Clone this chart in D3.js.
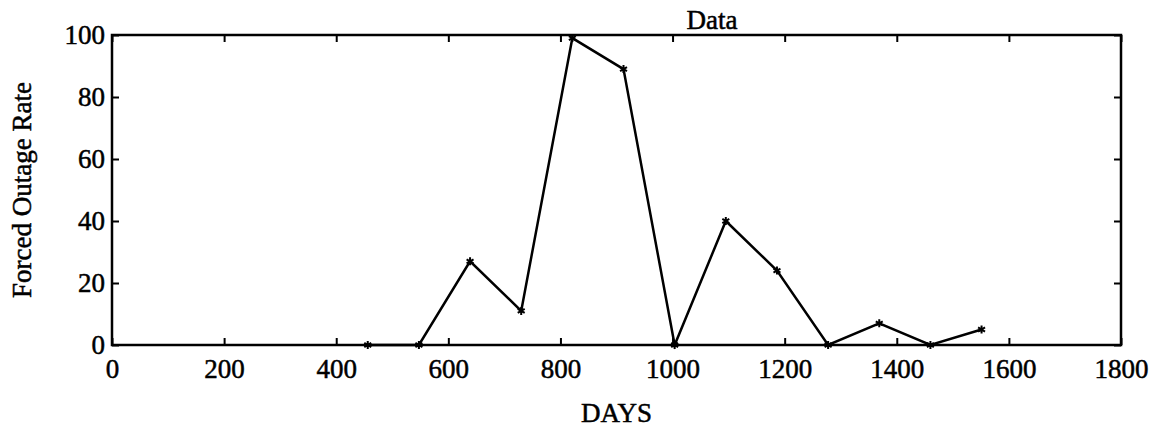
<!DOCTYPE html>
<html>
<head>
<meta charset="utf-8">
<script src="https://cdn.jsdelivr.net/npm/d3@7"></script>
<style>
  html, body { margin: 0; padding: 0; background: #fff; }
  svg { display: block; }
  text { font-family: "Liberation Serif", "Times New Roman", serif; fill: #000; }
</style>
</head>
<body>
<svg id="chart" width="1159" height="431"></svg>
<script>
// Forced outage rate observed each quarter (days since start)
const days = [456.25, 547.5, 638.75, 730, 821.25, 912.5, 1003.75, 1095, 1186.25, 1277.5, 1368.75, 1460, 1551.25];
const rate = [0, 0, 27, 11, 99, 89, 0, 40, 24, 0, 7, 0, 5];
const xTicks = [0, 200, 400, 600, 800, 1000, 1200, 1400, 1600, 1800];
const yTicks = [0, 20, 40, 60, 80, 100];

const svg = d3.select("#chart");
const plotLeft = 112, plotRight = 1121, plotTop = 35, plotBottom = 345;

const x = d3.scaleLinear().domain([0, 1800]).range([plotLeft, plotRight]);
const y = d3.scaleLinear().domain([0, 100]).range([plotBottom, plotTop]);

const fontSize = 27;
const tickLen = 7;
const textStroke = 0.5;

// Bottom axis with labels, ticks pointing inward
const gx = svg.append("g").attr("transform", `translate(0,${plotBottom})`)
  .call(d3.axisBottom(x).tickValues(xTicks).tickFormat(d3.format("d"))
    .tickSizeInner(-tickLen).tickSizeOuter(0).tickPadding(14));
// Left axis with labels
const gy = svg.append("g").attr("transform", `translate(${plotLeft},0)`)
  .call(d3.axisLeft(y).tickValues(yTicks).tickFormat(d3.format("d"))
    .tickSizeInner(-tickLen).tickSizeOuter(0).tickPadding(7));
// Top and right axes: ticks only
const gt = svg.append("g").attr("transform", `translate(0,${plotTop})`)
  .call(d3.axisTop(x).tickValues(xTicks).tickFormat("")
    .tickSizeInner(-tickLen).tickSizeOuter(0));
const gr = svg.append("g").attr("transform", `translate(${plotRight},0)`)
  .call(d3.axisRight(y).tickValues(yTicks).tickFormat("")
    .tickSizeInner(-tickLen).tickSizeOuter(0));

[gx, gy, gt, gr].forEach(g => {
  g.select(".domain").remove();
  g.selectAll(".tick line").attr("stroke", "#000").attr("stroke-width", 2);
  g.selectAll(".tick text").attr("font-size", fontSize)
    .attr("font-family", "Liberation Serif, Times New Roman, serif").attr("fill", "#000")
    .attr("stroke", "#000").attr("stroke-width", textStroke);
});

// Plot frame
svg.append("rect")
  .attr("x", plotLeft).attr("y", plotTop)
  .attr("width", plotRight - plotLeft).attr("height", plotBottom - plotTop)
  .attr("fill", "none").attr("stroke", "#000").attr("stroke-width", 2.5);

// Data line
const pts = days.map((d, i) => [d, rate[i]]);
svg.append("path")
  .datum(pts)
  .attr("fill", "none")
  .attr("stroke", "#000")
  .attr("stroke-width", 2.5)
  .attr("stroke-linejoin", "miter")
  .attr("d", d3.line().x(d => x(d[0])).y(d => y(d[1])));

// Asterisk markers
svg.append("g").selectAll("path")
  .data(pts)
  .join("path")
  .attr("transform", d => `translate(${x(d[0])},${y(d[1])})`)
  .attr("d", d3.symbol(d3.symbolAsterisk, 45))
  .attr("fill", "none")
  .attr("stroke", "#000")
  .attr("stroke-width", 2);

// Title
svg.append("text")
  .attr("x", 712).attr("y", 29)
  .attr("text-anchor", "middle")
  .attr("font-size", fontSize)
  .attr("stroke", "#000").attr("stroke-width", textStroke)
  .text("Data");

// Axis labels
svg.append("text")
  .attr("x", (plotLeft + plotRight) / 2).attr("y", 422)
  .attr("text-anchor", "middle")
  .attr("font-size", fontSize)
  .attr("stroke", "#000").attr("stroke-width", textStroke)
  .text("DAYS");

svg.append("text")
  .attr("transform", `translate(31,${(plotTop + plotBottom) / 2}) rotate(-90)`)
  .attr("text-anchor", "middle")
  .attr("font-size", fontSize)
  .attr("stroke", "#000").attr("stroke-width", textStroke)
  .text("Forced Outage Rate");
</script>
</body>
</html>
